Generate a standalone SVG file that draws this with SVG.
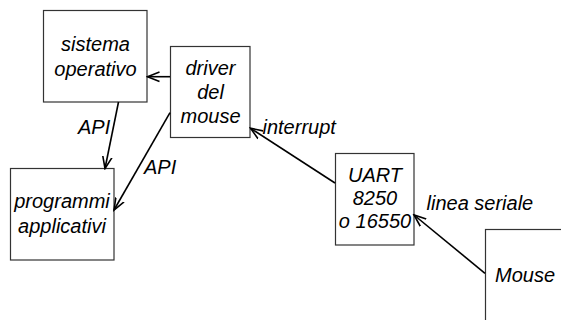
<svg xmlns="http://www.w3.org/2000/svg" width="561" height="320" viewBox="0 0 561 320">
<style>
.box{fill:#fff;stroke:#333;stroke-width:1.2}
.t{font-family:"Liberation Sans",Arial,sans-serif;font-style:italic;font-size:20px;fill:#000}
.c{text-anchor:middle}
.ln{stroke:#000;stroke-width:1.6;fill:none;marker-end:url(#ah)}
</style>
<defs>
<marker id="ah" markerUnits="userSpaceOnUse" markerWidth="14" markerHeight="12" refX="12" refY="6" orient="auto" viewBox="0 0 14 12">
<path d="M0,1.3 L12,6 L0,10.7" fill="none" stroke="#000" stroke-width="1.6"/>
</marker>
</defs>
<rect width="561" height="320" fill="#fff"/>
<g id="sistema">
<rect class="box" x="43.5" y="10.5" width="103.5" height="91.5"/>
<text class="t c" x="95.5" y="51">sistema</text>
<text class="t c" x="95.5" y="75.5">operativo</text>
</g>
<g id="driver">
<rect class="box" x="170.5" y="46.5" width="79.5" height="91"/>
<text class="t c" x="210.5" y="75">driver</text>
<text class="t c" x="210.5" y="99">del</text>
<text class="t c" x="210.5" y="123">mouse</text>
</g>
<g id="programmi">
<rect class="box" x="10.5" y="168.5" width="103.5" height="91.5"/>
<text class="t c" x="62" y="208">programmi</text>
<text class="t c" x="62" y="233">applicativi</text>
</g>
<g id="uart">
<rect class="box" x="335.5" y="153.5" width="78.5" height="91.5"/>
<text class="t c" x="375" y="182">UART</text>
<text class="t c" x="375" y="205">8250</text>
<text class="t c" x="375" y="227.5">o 16550</text>
</g>
<g id="mouse">
<rect class="box" x="485.5" y="229.5" width="100" height="100"/>
<text class="t" x="495" y="282">Mouse</text>
</g>
<g id="connectors">
<line class="ln" x1="170" y1="76.7" x2="147.5" y2="76.7"/>
<line class="ln" x1="118.5" y1="102" x2="105" y2="168.5"/>
<line class="ln" x1="170" y1="112.7" x2="114" y2="210"/>
<line class="ln" x1="335" y1="183" x2="250.5" y2="128.3"/>
<line class="ln" x1="485" y1="273.3" x2="414" y2="215"/>
<text class="t" x="78" y="134">API</text>
<text class="t" x="144" y="173.5">API</text>
<text class="t" x="262.5" y="133.5">interrupt</text>
<text class="t" x="426.5" y="210">linea seriale</text>
</g>
</svg>
